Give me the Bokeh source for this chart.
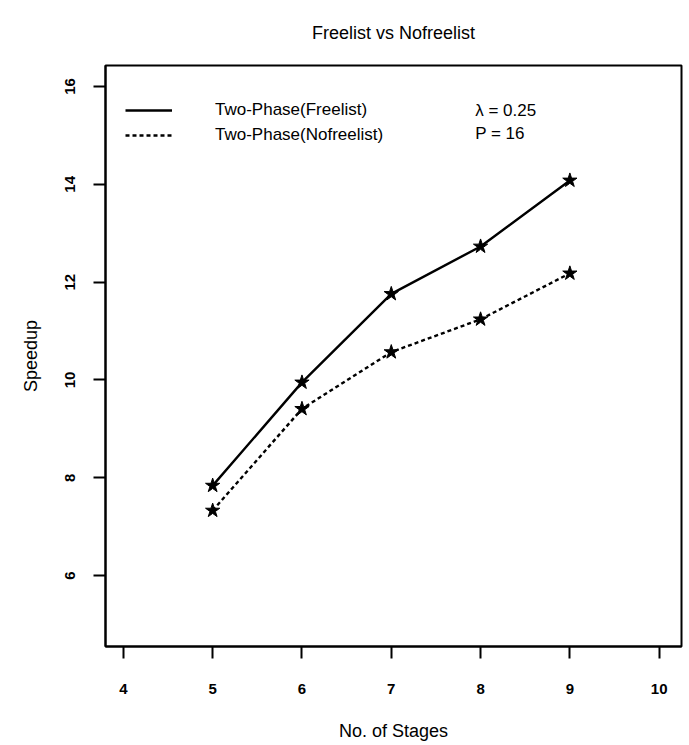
from bokeh.plotting import figure
from bokeh.models import Range1d, FixedTicker, Legend, LegendItem, Label
from bokeh.embed import file_html
from bokeh.resources import INLINE

stages = [5, 6, 7, 8, 9]
freelist = [7.84, 9.95, 11.76, 12.73, 14.08]
nofreelist = [7.33, 9.41, 10.57, 11.24, 12.18]
x_ticks = [4, 5, 6, 7, 8, 9, 10]
y_ticks = [6, 8, 10, 12, 14, 16]

FONT = "Liberation Sans"

p = figure(width=689, height=745, output_backend="svg", toolbar_location=None,
           x_range=Range1d(3.80, 10.25), y_range=Range1d(4.55, 16.43),
           min_border_left=105, min_border_right=8, min_border_top=65, min_border_bottom=99,
           title="Freelist vs Nofreelist")

p.title.align = "center"
p.title.vertical_align = "top"
p.title.text_font = FONT
p.title.text_font_size = "18px"
p.title.text_font_style = "normal"
p.title.text_color = "black"
p.title.standoff = 42

p.grid.visible = False
p.outline_line_color = "black"
p.outline_line_width = 2
p.background_fill_color = "white"
p.border_fill_color = "white"

for ax in (p.xaxis, p.yaxis):
    ax.axis_line_width = 2
    ax.major_tick_line_width = 2
    ax.major_tick_out = 12
    ax.major_tick_in = 0
    ax.minor_tick_line_color = None
    ax.major_label_text_font = FONT
    ax.major_label_text_font_size = "15px"
    ax.major_label_text_font_style = "bold"
    ax.major_label_text_color = "black"
    ax.axis_label_text_font = FONT
    ax.axis_label_text_font_size = "18px"
    ax.axis_label_text_font_style = "normal"
    ax.axis_label_text_color = "black"

p.xaxis.ticker = FixedTicker(ticks=x_ticks)
p.yaxis.ticker = FixedTicker(ticks=y_ticks)
p.xaxis.axis_label = "No. of Stages"
p.yaxis.axis_label = "Speedup"
p.xaxis.major_label_standoff = 25
p.yaxis.major_label_standoff = 18
p.yaxis.major_label_orientation = "vertical"
p.xaxis.axis_label_standoff = 24
p.yaxis.axis_label_standoff = 22

l1 = p.line(stages, freelist, line_color="black", line_width=2.4)
l2 = p.line(stages, nofreelist, line_color="black", line_width=2.4, line_dash="4 3")
p.scatter(stages, freelist, marker="star", size=15, fill_color="black", line_color="black")
p.scatter(stages, nofreelist, marker="star", size=15, fill_color="black", line_color="black")

legend = Legend(items=[LegendItem(label="Two-Phase(Freelist)", renderers=[l1]),
                       LegendItem(label="Two-Phase(Nofreelist)", renderers=[l2])],
                location=(20, 501), padding=0, margin=0, spacing=5,
                glyph_width=47, glyph_height=18, label_height=18, label_standoff=43,
                label_text_font=FONT, label_text_font_size="17px", label_text_color="black",
                border_line_color=None, background_fill_alpha=0)
p.add_layout(legend)

p.add_layout(Label(x=7.94, y=15.51, text="λ = 0.25", text_font=FONT, text_font_size="17px",
                   text_color="black", text_baseline="middle"))
p.add_layout(Label(x=7.94, y=15.04, text="P = 16", text_font=FONT, text_font_size="17px",
                   text_color="black", text_baseline="middle"))

open("out.html", "w").write(file_html(p, INLINE))
